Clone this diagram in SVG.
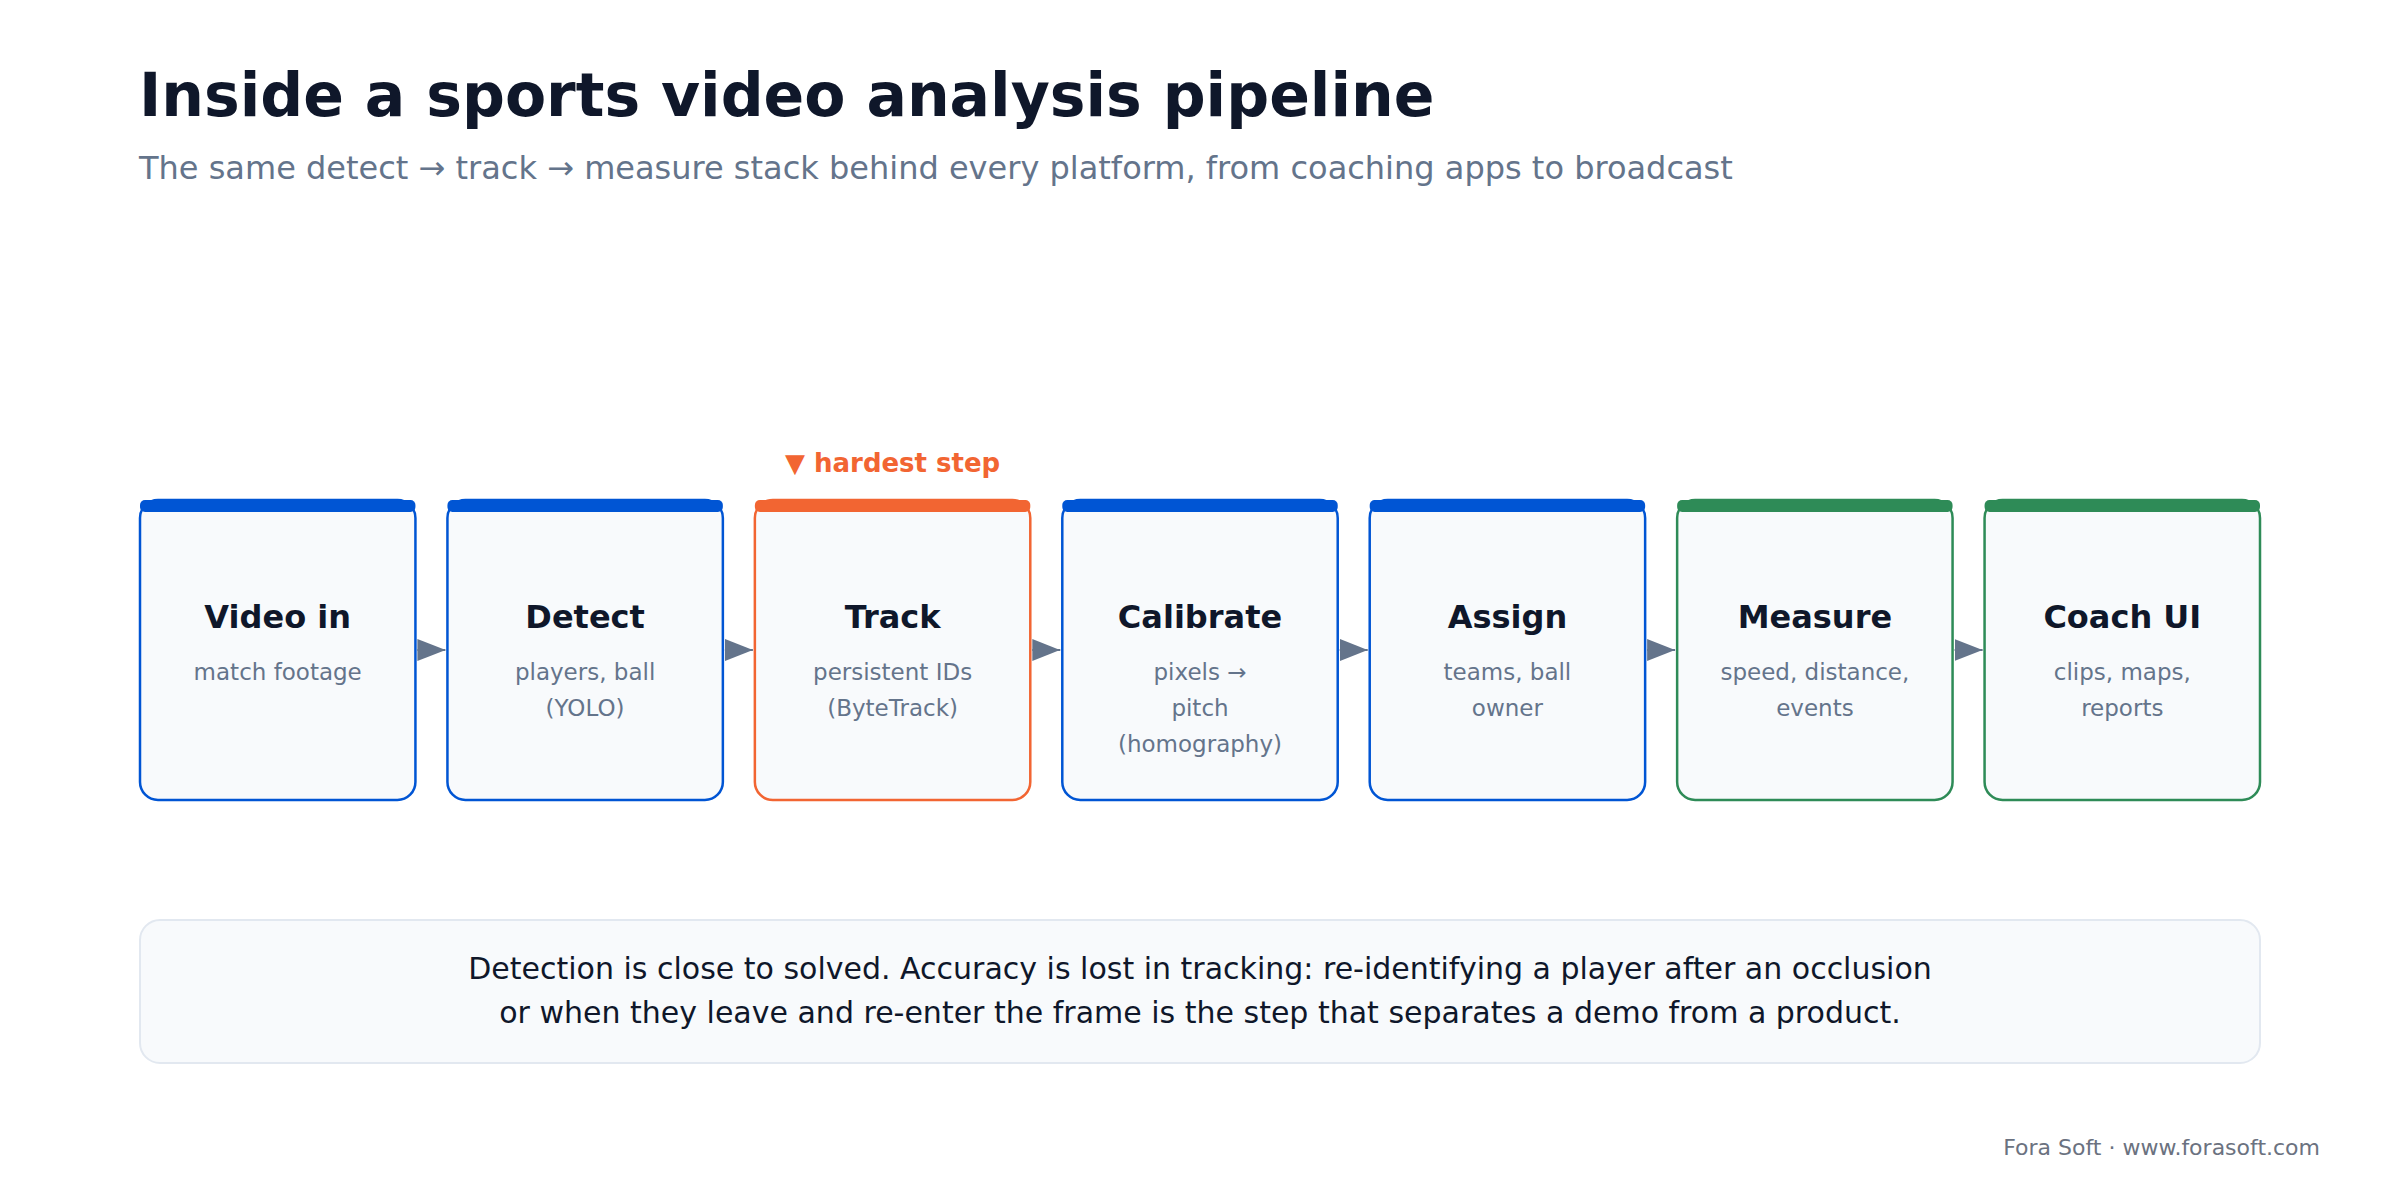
<svg xmlns="http://www.w3.org/2000/svg" width="2400" height="1200" viewBox="0 0 2400 1200">
<style>
text{font-family:"DejaVu Sans","Noto Sans",sans-serif}
.title{font-size:60px;font-weight:bold;fill:#0f172a}
.sub{font-size:32px;fill:#64748b}
.box{fill:#f8fafc;stroke-width:2.5}
.nt{font-size:32px;font-weight:bold;fill:#0f172a;text-anchor:middle}
.ns{font-size:23px;fill:#64748b;text-anchor:middle}
.blue .box{stroke:#0055d4}.blue .bar{fill:#0055d4}
.orange .box{stroke:#f26532}.orange .bar{fill:#f26532}
.green .box{stroke:#2e8b57}.green .bar{fill:#2e8b57}
.conn{stroke:#64748b;stroke-width:2;fill:none}
.note{fill:#f8fafc;stroke:#e2e8f0;stroke-width:2}
.nx{font-size:30px;fill:#0f172a;text-anchor:middle}
.foot{font-size:22px;fill:#6b7280;text-anchor:end}
.hard{font-size:26px;font-weight:bold;fill:#f26532;text-anchor:middle}
</style>
<defs>
<marker id="ah" markerUnits="strokeWidth" markerWidth="14" markerHeight="11" refX="14" refY="5.5" orient="auto">
<path d="M0,0 L14,5.5 L0,11 z" fill="#64748b"/>
</marker>
</defs>
<rect width="2400" height="1200" fill="#ffffff"/>
<text class="title" x="139" y="116">Inside a sports video analysis pipeline</text>
<text class="sub" x="139" y="179">The same detect → track → measure stack behind every platform, from coaching apps to broadcast</text>

<g id="connectors">
<line class="conn" x1="417.4" y1="650" x2="445.4" y2="650" marker-end="url(#ah)"/>
<line class="conn" x1="724.9" y1="650" x2="752.9" y2="650" marker-end="url(#ah)"/>
<line class="conn" x1="1032.3" y1="650" x2="1060.3" y2="650" marker-end="url(#ah)"/>
<line class="conn" x1="1339.7" y1="650" x2="1367.7" y2="650" marker-end="url(#ah)"/>
<line class="conn" x1="1647.1" y1="650" x2="1675.1" y2="650" marker-end="url(#ah)"/>
<line class="conn" x1="1954.6" y1="650" x2="1982.6" y2="650" marker-end="url(#ah)"/>
</g>

<g id="node-video" class="blue">
<rect class="box" x="140" y="500" width="275.43" height="300" rx="18"/>
<rect class="bar" x="140" y="500" width="275.43" height="12" rx="5"/>
<text class="nt" x="277.7" y="628">Video in</text>
<text class="ns" x="277.7" y="680">match footage</text>
</g>
<g id="node-detect" class="blue">
<rect class="box" x="447.43" y="500" width="275.43" height="300" rx="18"/>
<rect class="bar" x="447.43" y="500" width="275.43" height="12" rx="5"/>
<text class="nt" x="585.1" y="628">Detect</text>
<text class="ns" x="585.1" y="680">players, ball</text>
<text class="ns" x="585.1" y="716">(YOLO)</text>
</g>
<g id="node-track" class="orange">
<text class="hard" x="892.6" y="472">▼ hardest step</text>
<rect class="box" x="754.86" y="500" width="275.43" height="300" rx="18"/>
<rect class="bar" x="754.86" y="500" width="275.43" height="12" rx="5"/>
<text class="nt" x="892.6" y="628">Track</text>
<text class="ns" x="892.6" y="680">persistent IDs</text>
<text class="ns" x="892.6" y="716">(ByteTrack)</text>
</g>
<g id="node-calibrate" class="blue">
<rect class="box" x="1062.29" y="500" width="275.43" height="300" rx="18"/>
<rect class="bar" x="1062.29" y="500" width="275.43" height="12" rx="5"/>
<text class="nt" x="1200" y="628">Calibrate</text>
<text class="ns" x="1200" y="680">pixels →</text>
<text class="ns" x="1200" y="716">pitch</text>
<text class="ns" x="1200" y="752">(homography)</text>
</g>
<g id="node-assign" class="blue">
<rect class="box" x="1369.71" y="500" width="275.43" height="300" rx="18"/>
<rect class="bar" x="1369.71" y="500" width="275.43" height="12" rx="5"/>
<text class="nt" x="1507.4" y="628">Assign</text>
<text class="ns" x="1507.4" y="680">teams, ball</text>
<text class="ns" x="1507.4" y="716">owner</text>
</g>
<g id="node-measure" class="green">
<rect class="box" x="1677.14" y="500" width="275.43" height="300" rx="18"/>
<rect class="bar" x="1677.14" y="500" width="275.43" height="12" rx="5"/>
<text class="nt" x="1814.9" y="628">Measure</text>
<text class="ns" x="1814.9" y="680">speed, distance,</text>
<text class="ns" x="1814.9" y="716">events</text>
</g>
<g id="node-coach" class="green">
<rect class="box" x="1984.57" y="500" width="275.43" height="300" rx="18"/>
<rect class="bar" x="1984.57" y="500" width="275.43" height="12" rx="5"/>
<text class="nt" x="2122.3" y="628">Coach UI</text>
<text class="ns" x="2122.3" y="680">clips, maps,</text>
<text class="ns" x="2122.3" y="716">reports</text>
</g>

<g id="note">
<rect class="note" x="140" y="920" width="2120" height="143" rx="20"/>
<text class="nx" x="1200" y="979">Detection is close to solved. Accuracy is lost in tracking: re-identifying a player after an occlusion</text>
<text class="nx" x="1200" y="1023">or when they leave and re-enter the frame is the step that separates a demo from a product.</text>
</g>
<text class="foot" x="2320" y="1155">Fora Soft · www.forasoft.com</text>
</svg>
